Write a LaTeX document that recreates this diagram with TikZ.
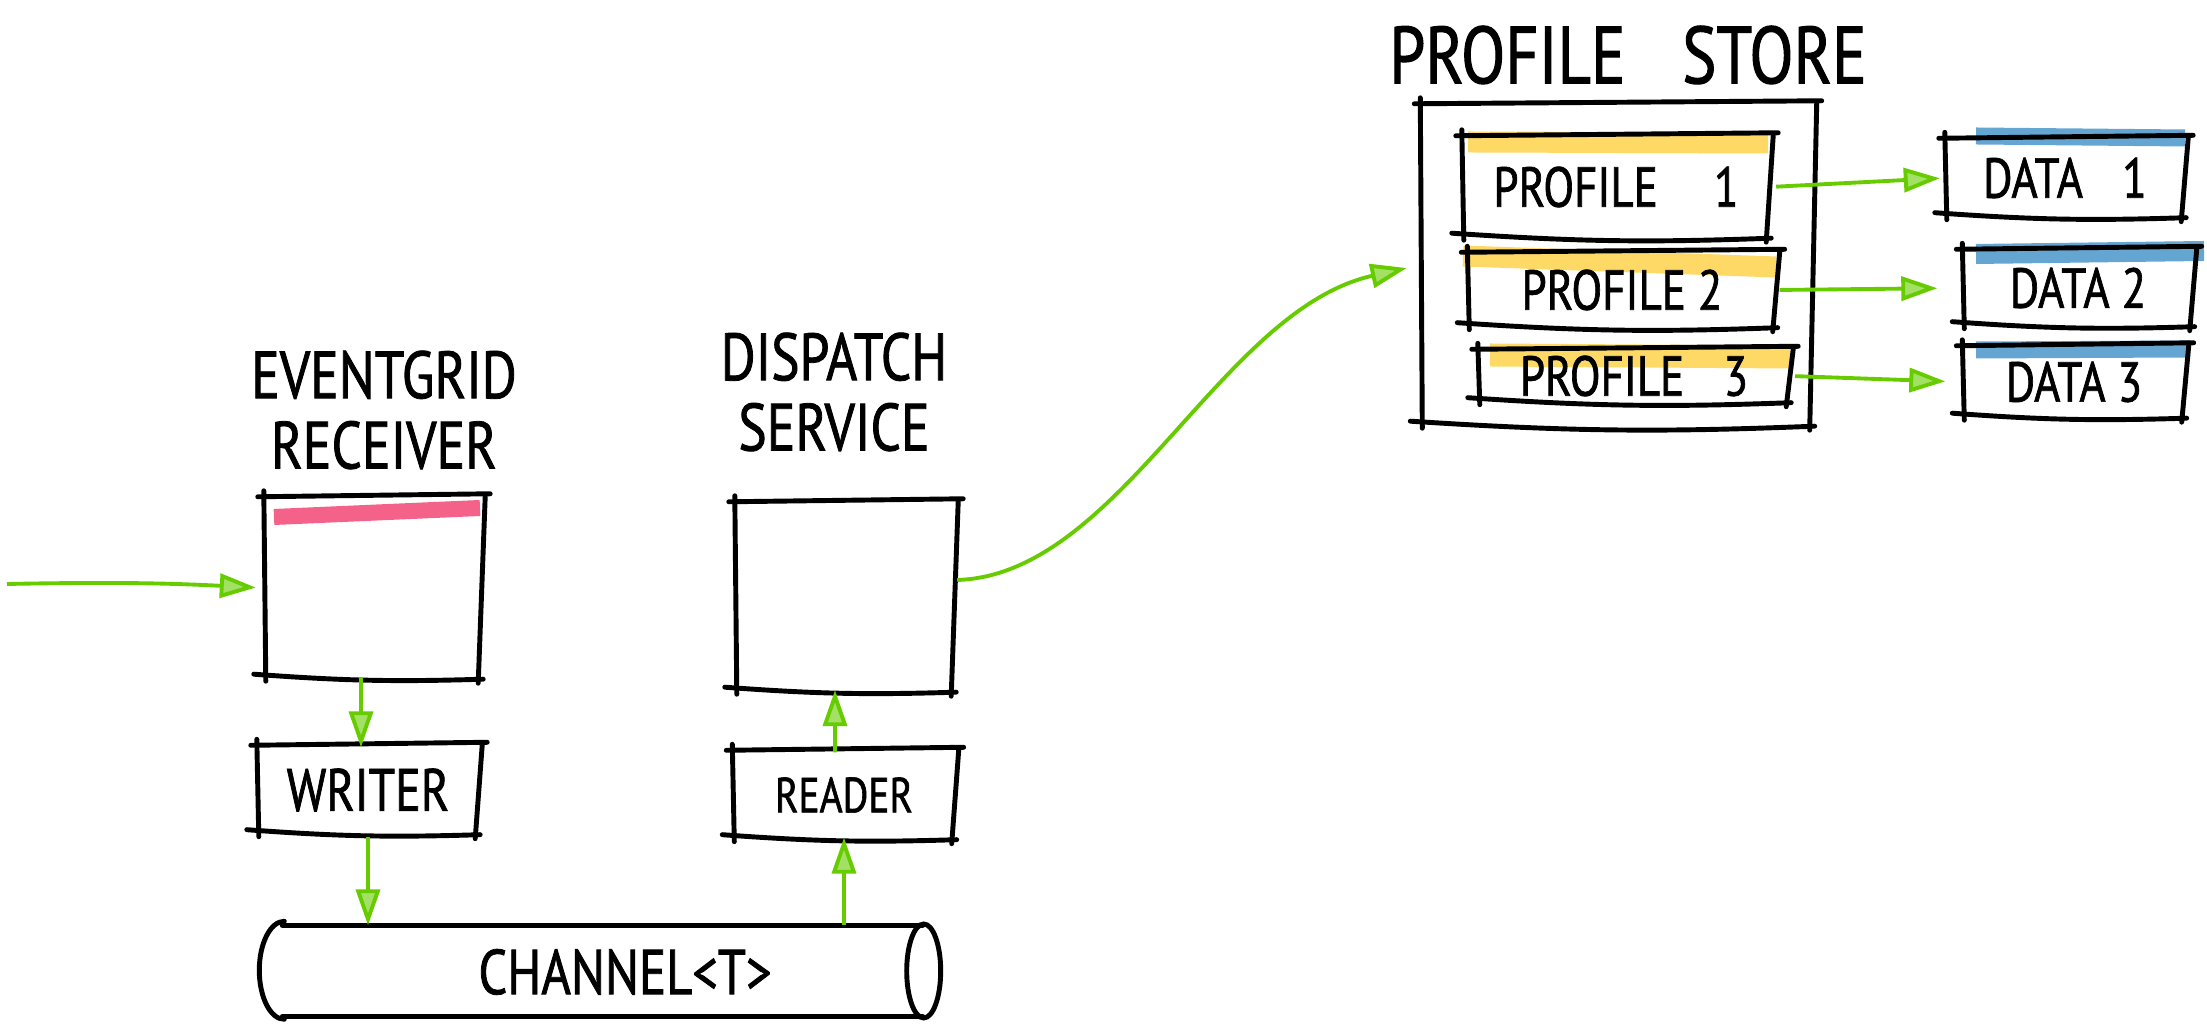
\documentclass[tikz,border=0pt]{standalone}
\usepackage{fontspec}
\setmainfont{PT Sans}[FakeStretch=0.8, FakeBold=1.2]
\usepackage{tikz}
\usetikzlibrary{positioning, arrows.meta}
\usepackage{xcolor}
\definecolor{arrowgreen}{HTML}{66CC00}
\definecolor{hlpink}{HTML}{F4628A}
\definecolor{hlyellow}{HTML}{FFD966}
\definecolor{hlblue}{HTML}{64A5D2}
\tikzset{
  ink/.style={line width=1.4pt, line cap=round},
  flow/.style={arrowgreen, line width=1.1pt, -{Triangle[length=0.36cm,width=0.24cm,fill=arrowgreen!60]}},
  boxnode/.style={inner sep=0pt, align=center},
  lbl/.style={font=\fontsize{19}{22}\selectfont, align=center},
}
\begin{document}
\begin{tikzpicture}
        \useasboundingbox (0,0) rectangle (22.07,-10.29);
        % highlight bars go first, behind everything
        \draw[hlpink, line width=0.16cm] (2.74,-5.17) -- (4.80,-5.08);
        \draw[hlyellow, line width=0.21cm] (14.68,-1.42) -- (17.68,-1.43);
        \draw[hlyellow, line width=0.21cm] (14.63,-2.56) -- (17.76,-2.67);
        \draw[hlyellow, line width=0.23cm] (14.90,-3.55) -- (17.90,-3.57);
        \draw[hlblue, line width=0.17cm] (19.76,-1.36) -- (21.85,-1.38);
        \draw[hlblue, line width=0.2cm] (19.76,-2.54) -- (22.04,-2.51);
        \draw[hlblue, line width=0.17cm] (19.76,-3.50) -- (21.90,-3.49);
        % left part
        \node[boxnode, minimum width=2.17cm, minimum height=1.77cm] (recv) at (3.73,-5.88) {};
        \node[boxnode, minimum width=2.19cm, minimum height=1.85cm] (disp) at (8.45,-5.97) {};
        \node[lbl] (recvlbl) at (3.84,-4.10) {EVENTGRID\\[-2pt]RECEIVER};
        \node[lbl] (displbl) at (8.34,-3.92) {DISPATCH\\[-2pt]SERVICE};
        \node[boxnode, minimum width=2.21cm, minimum height=0.84cm, font=\fontsize{17}{20}\selectfont] (writer) at (3.68,-7.90) {WRITER};
        \node[boxnode, minimum width=2.22cm, minimum height=0.84cm, font=\fontsize{14}{17}\selectfont] (reader) at (8.44,-7.95) {READER};
        \node[boxnode, minimum width=6.82cm, minimum height=0.9cm] (chan) at (5.99,-9.71) {};
        \node[font=\fontsize{18}{21}\selectfont] (chanlbl) at (6.25,-9.72) {CHANNEL<T>};
        % right part
        \node[lbl, font=\fontsize{23}{27}\selectfont] (storelbl) at (16.28,-0.55) {PROFILE\hspace{0.7em}STORE};
        \node[boxnode, minimum width=3.92cm, minimum height=3.17cm] (store) at (16.17,-2.65) {};
        \node[boxnode, minimum width=3.07cm, minimum height=0.97cm, font=\fontsize{16}{19}\selectfont] (p1) at (16.16,-1.87) {PROFILE\hspace{1em}1};
        \node[boxnode, minimum width=3.08cm, minimum height=0.70cm, font=\fontsize{16}{19}\selectfont] (p2) at (16.22,-2.90) {PROFILE 2};
        \node[boxnode, minimum width=3.11cm, minimum height=0.48cm, font=\fontsize{16}{19}\selectfont] (p3) at (16.34,-3.76) {PROFILE\hspace{0.7em}3};
        \node[boxnode, minimum width=2.39cm, minimum height=0.74cm, font=\fontsize{16}{19}\selectfont] (d1) at (20.65,-1.78) {DATA\hspace{0.7em}1};
        \node[boxnode, minimum width=2.30cm, minimum height=0.72cm, font=\fontsize{16}{19}\selectfont] (d2) at (20.78,-2.88) {DATA 2};
        \node[boxnode, minimum width=2.22cm, minimum height=0.67cm, font=\fontsize{16}{19}\selectfont] (d3) at (20.74,-3.82) {DATA 3};
        % sketchy outlines of the boxes
        \foreach \n in {recv,disp,writer,reader,store,p1,p2,p3,d1,d2,d3} {
          \draw[ink] ([shift={(-0.06,0.02)}]\n.north west) -- ([shift={(0.08,0.05)}]\n.north east);
          \draw[ink] ([shift={(-0.10,0.03)}]\n.south west) to[bend right=3] ([shift={(0.01,-0.02)}]\n.south east);
          \draw[ink] ([shift={(0,0.08)}]\n.north west) -- ([shift={(0.02,-0.04)}]\n.south west);
          \draw[ink] ([shift={(0.03,0.02)}]\n.north east) -- ([shift={(-0.04,-0.06)}]\n.south east);
        }
        % the channel pipe
        \draw[ink] ([xshift=0.25cm]chan.north west) -- ([xshift=-0.18cm]chan.north east);
        \draw[ink] ([xshift=0.25cm]chan.south west) -- ([xshift=-0.18cm]chan.south east);
        \draw[ink] ([shift={(0.27,0.04)}]chan.north west) arc[start angle=90, end angle=270, x radius=0.25cm, y radius=0.49cm];
        \draw[ink] ([xshift=-0.17cm]chan.east) ellipse[x radius=0.17cm, y radius=0.47cm];
        % Now the green arrows
        \coordinate (in) at (0.07,-5.84);
        \draw[flow, shorten >=0.08cm] (in) to[bend left=2] (recv.west);
        \draw[flow] ([xshift=-0.12cm]recv.south) -- ([xshift=-0.07cm]writer.north);
        \draw[flow, shorten <=0.04cm] (writer.south) -- (writer.south |- chan.north);
        \draw[flow] (reader.south |- chan.north) -- (reader.south);
        \draw[flow] ([xshift=-0.09cm]reader.north) -- ([xshift=-0.10cm]disp.south);
        \draw[flow, shorten >=0.14cm] ([shift={(0.02,0.17)}]disp.east) .. controls (11.2,-5.75) and (12.2,-3.1) .. (store.west);
        \draw[flow, shorten <=0.06cm, shorten >=0.05cm] (p1.east) -- (d1.west);
        \draw[flow, shorten <=0.03cm, shorten >=0.25cm] (p2.east) -- (d2.west);
        \draw[flow, shorten <=0.05cm, shorten >=0.17cm] (p3.east) -- (d3.west);
\end{tikzpicture}
\end{document}
